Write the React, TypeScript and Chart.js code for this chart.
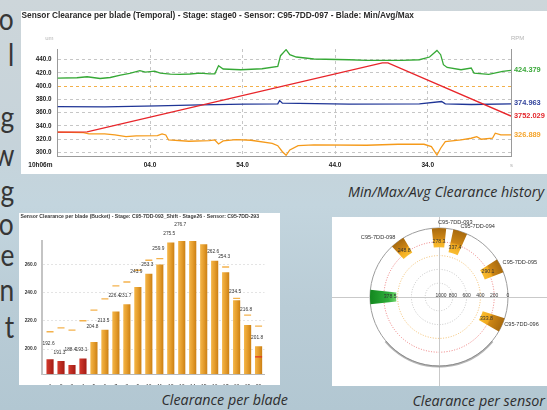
import React, { useEffect, useRef } from 'react';
import { Chart, registerables, PolarAreaController } from 'chart.js';

Chart.register(...registerables);

// ---------------- Slide text ----------------
const SLIDE_LETTERS = ['o', 'l', 'g', 'w', 'g', 'o', 'e', 'n', 't'];
const CAPTION_HISTORY = 'Min/Max/Avg Clearance history';
const CAPTION_BLADE = 'Clearance per blade';
const CAPTION_SENSOR = 'Clearance per sensor';

// ---------------- Temporal clearance (top chart) ----------------
const TOP_TITLE = 'Sensor Clearance per blade (Temporal) - Stage: stage0 - Sensor: C95-7DD-097 - Blade: Min/Avg/Max';
const TIME_TICKS = [0, 10, 20, 30, 40];
const TIME_TICK_LABELS = ['10h06m', '04.0', '54.0', '44.0', '34.0'];
const TIME_UNIT = 's';
const CLEARANCE_UNIT = 'um';
const RPM_UNIT = 'RPM';
const CLEARANCE_TICKS = [300, 320, 340, 360, 380, 400, 420, 440];
const CLEARANCE_LIMIT = 400;

const MAX_TIME = [0, 2.1, 3.2, 4.6, 5.7, 6.8, 7.8, 8.9, 9.5, 10.5, 11.1, 12.2, 13.2, 14.3, 15.4, 16.4, 17.0, 17.4, 17.9, 19.8, 22.1, 23.8, 24.1, 24.7, 25.1, 25.8, 27.7, 31.5, 33.4, 37.2, 39.1, 40.2, 41.0, 41.4, 41.7, 42.1, 43.6, 44.7, 45.0, 46.6, 48.1, 49.0];
const MAX_CLEARANCE = [412.3, 412.8, 414.3, 411.7, 413.2, 416.9, 419.3, 423.4, 421.4, 422.9, 419.9, 418.4, 417.8, 418.5, 419.9, 418.8, 418.8, 430.9, 426.0, 424.9, 426.4, 429.9, 446.1, 455.2, 447.6, 444.1, 441.1, 440.0, 439.0, 439.0, 440.0, 444.1, 454.1, 447.6, 432.5, 428.4, 424.9, 427.5, 419.9, 417.8, 422.3, 423.8];

const AVG_TIME = [0, 5.1, 10.8, 15.4, 20.2, 23.8, 24.0, 24.3, 31.5, 39.1, 41.5, 41.9, 44.7, 49.0];
const AVG_CLEARANCE = [369.3, 368.9, 370.4, 372.0, 373.0, 373.4, 378.4, 374.5, 373.0, 373.4, 376.9, 373.4, 372.4, 373.4];

const MIN_TIME = [0, 2.8, 3.4, 5.1, 6.2, 7.4, 8.5, 10.8, 11.3, 11.7, 12.0, 14.2, 16.4, 17.0, 17.4, 17.9, 19.3, 20.9, 23.2, 23.8, 24.3, 24.7, 25.1, 26.0, 27.7, 33.4, 36.8, 39.6, 40.4, 41.0, 41.4, 41.9, 43.6, 44.7, 45.3, 45.8, 47.0, 47.3, 47.9, 49.0];
const MIN_CLEARANCE = [330.6, 330.0, 328.0, 328.0, 326.5, 324.0, 325.0, 325.4, 328.0, 326.5, 318.9, 317.0, 317.9, 318.9, 312.9, 317.4, 319.4, 318.5, 313.9, 310.3, 301.2, 295.8, 303.8, 310.3, 311.4, 310.9, 312.4, 312.4, 308.8, 296.2, 306.4, 316.4, 318.9, 321.5, 323.9, 320.0, 321.5, 329.1, 326.5, 326.5];

const RPM_TIME = [0, 3.2, 35.1, 35.7, 49.0];
const RPM_VALUES = [3650, 3652, 4088, 4088, 3752];

const LAST_MAX = 424.379;
const LAST_AVG = 374.963;
const LAST_RPM = 3752.029;
const LAST_MIN = 326.889;

// ---------------- Clearance per blade (bottom-left) ----------------
const BLADE_TITLE = 'Sensor Clearance per blade (Bucket) - Stage: C95-7DD-093_Shift - Stage26 - Sensor: C95-7DD-293';
const BLADES = [1, 2, 3, 4, 5, 6, 7, 8, 9, 10, 11, 12, 13, 14, 15, 16, 17, 18, 19, 20];
const BLADE_CLEARANCE = [192.6, 191.3, 188.4, 193.1, 204.8, 213.5, 226.4, 231.7, 243.9, 253.3, 259.9, 275.5, 276.7, 276.6, 274.2, 262.6, 254.3, 234.5, 216.8, 201.8];
const BLADE_MAX = [212.3, 215.1, 213.5, 220.1, 227.7, 235.7, 244.9, 247.7, 256.0, 263.1, 264.3, null, null, null, null, null, 258.3, 236.0, 224.1, 216.3];
const BLADE_MIN_ALARM = [null, null, null, null, null, null, null, null, null, null, null, null, null, null, null, null, null, null, null, 194.5];
const BLADE_TICKS = [200, 220, 240, 260];
const BLADE_LOW_LIMIT = 195;
const BLADES_WITHOUT_LABEL = [14, 15];

// ---------------- Clearance per sensor (bottom-right) ----------------
const SENSOR_NAMES = ['C95-7DD-093', 'C95-7DD-094', 'C95-7DD-095', 'C95-7DD-096', 'C95-7DD-097', 'C95-7DD-098'];
const SENSOR_ANGLES = [0, 18, 63, 114, 270, 323];
const SENSOR_CLEARANCE = [278.3, 337.4, 290.1, 333.8, 378.5, 248.8];
const SELECTED_SENSOR = 'C95-7DD-097';
const RADIAL_TICKS = [0, 200, 400, 600, 800, 1000];
const RADIAL_ALARM = 200;
const RADIAL_WARNING = 400;

const FONT = '"Liberation Sans", Arial, sans-serif';
const ok = (...v: number[]) => v.every((n) => Number.isFinite(n));

// Polar controller whose slices are bands from the value out to the rim, at given angles
class SensorBandController extends (PolarAreaController as any) {
  static id = 'sensorBand';
  updateElements(arcs: any[], start: number, count: number, mode: any) {
    const self: any = this;
    const scale = self._cachedMeta.rScale;
    const ds = self.getDataset();
    const outer = scale.getDistanceFromCenterForValue(scale.min);
    const half = ((ds.bandWidth || 12) / 2) * Math.PI / 180;
    for (let i = start; i < start + count; i++) {
      const mid = (ds.angles[i] - 90) * Math.PI / 180;
      const inner = scale.getDistanceFromCenterForValue(self.getParsed(i).r);
      self.updateElement(arcs[i], i, {
        x: scale.xCenter,
        y: scale.yCenter,
        innerRadius: inner,
        outerRadius: outer,
        startAngle: mid - half,
        endAngle: mid + half,
        options: self.resolveDataElementOptions(i, mode),
      }, mode);
    }
  }
}
Chart.register(SensorBandController as any);

const zip = (xs: number[], ys: (number | null)[]) => xs.map((x, i) => ({ x, y: ys[i] }));

function makeTop(canvas: HTMLCanvasElement) {
  const labelsPlugin = {
    id: 'topLabels',
    afterDraw(chart: any) {
      const { ctx, chartArea: a, scales } = chart;
      ctx.save();
      ctx.textBaseline = 'middle';
      ctx.font = `bold 8.3px ${FONT}`;
      ctx.fillStyle = '#2a2a2a';
      ctx.textAlign = 'left';
      ctx.fillText(TOP_TITLE, 0.5, 4.8);
      ctx.font = `6px ${FONT}`;
      ctx.fillStyle = '#b4b4b4';
      ctx.textAlign = 'right';
      ctx.fillText(CLEARANCE_UNIT, a.left - 4, 27);
      ctx.textAlign = 'left';
      ctx.fillText(RPM_UNIT, a.right, 27);
      ctx.fillText(TIME_UNIT, a.right - 1, a.bottom + 9);
      ctx.font = `bold 6.5px ${FONT}`;
      ctx.fillStyle = '#222';
      ctx.textAlign = 'right';
      ctx.fillText(TIME_TICK_LABELS[0], a.left - 5, a.bottom + 9);
      const ends = [
        { v: LAST_MAX, axis: 'y', color: '#3aa83a' },
        { v: LAST_AVG, axis: 'y', color: '#33449c' },
        { v: LAST_RPM, axis: 'rpm', color: '#e3262b' },
        { v: LAST_MIN, axis: 'y', color: '#f5a42a' },
      ];
      ctx.font = `bold 7.4px ${FONT}`;
      ctx.textAlign = 'left';
      ends.forEach((e) => {
        ctx.fillStyle = e.color;
        ctx.fillText(e.v.toFixed(3), a.right + 3, scales[e.axis].getPixelForValue(e.v));
      });
      ctx.restore();
    },
  };
  return new Chart(canvas, {
    type: 'line',
    data: {
      datasets: [
        { label: 'RPM', data: zip(RPM_TIME, RPM_VALUES), yAxisID: 'rpm', borderColor: '#e8262b' },
        { label: 'Max', data: zip(MAX_TIME, MAX_CLEARANCE), yAxisID: 'y', borderColor: '#36a936' },
        { label: 'Avg', data: zip(AVG_TIME, AVG_CLEARANCE), yAxisID: 'y', borderColor: '#1f3596' },
        { label: 'Min', data: zip(MIN_TIME, MIN_CLEARANCE), yAxisID: 'y', borderColor: '#f59a1a' },
      ],
    },
    options: {
      responsive: false,
      animation: false,
      events: [],
      layout: { padding: { top: 38, right: 36, left: 0, bottom: 0 } },
      plugins: { legend: { display: false }, tooltip: { enabled: false } },
      elements: { point: { radius: 0 }, line: { borderWidth: 1.3, tension: 0 } },
      scales: {
        x: {
          type: 'linear', min: 0, max: 49,
          afterBuildTicks: (s: any) => { s.ticks = TIME_TICKS.map((v) => ({ value: v })); },
          afterFit: (s: any) => { s.height = 18; },
          grid: { color: '#c6c6c6', drawTicks: false },
          border: { display: true, color: '#9a9a9a', dash: [3, 3] },
          ticks: {
            padding: 5, color: '#222', maxRotation: 0, autoSkip: false,
            font: { family: FONT, size: 6.5, weight: 'bold' },
            callback: (_v: any, i: number) => (i === 0 ? '' : TIME_TICK_LABELS[i]),
          },
        },
        y: {
          min: 294.7, max: 456.2,
          afterBuildTicks: (s: any) => { s.ticks = CLEARANCE_TICKS.map((v) => ({ value: v })); },
          afterFit: (s: any) => { s.width = 36.5; },
          grid: { color: (c: any) => (c.tick && c.tick.value === CLEARANCE_LIMIT ? '#f3b04a' : '#c6c6c6'), drawTicks: false },
          border: { color: '#9a9a9a', dash: [3, 3] },
          ticks: {
            padding: 6, color: '#222',
            font: { family: FONT, size: 6.3, weight: 'bold' },
            callback: (v: any) => Number(v).toFixed(1),
          },
        },
        rpm: {
          position: 'right', min: 3500, max: 4175,
          ticks: { display: false },
          grid: { drawOnChartArea: false, drawTicks: false },
          border: { color: '#9a9a9a' },
          afterFit: (s: any) => { s.width = 0; },
        },
      },
    } as any,
    plugins: [labelsPlugin],
  });
}

function makeBlades(canvas: HTMLCanvasElement) {
  const labelPlugin = {
    id: 'bladeLabels',
    afterDatasetsDraw(chart: any) {
      const { ctx, scales } = chart;
      ctx.save();
      ctx.font = `4.8px ${FONT}`;
      ctx.fillStyle = '#333';
      ctx.textAlign = 'center';
      ctx.textBaseline = 'middle';
      BLADES.forEach((b, i) => {
        if (BLADES_WITHOUT_LABEL.includes(b)) return;
        const x = scales.x.getPixelForValue(b) - 1.5;
        const y = scales.y.getPixelForValue(BLADE_CLEARANCE[i]) - (b % 2 === 1 ? 16 : 9);
        ctx.fillText(BLADE_CLEARANCE[i].toFixed(1), x, y);
      });
      ctx.font = `bold 5.15px ${FONT}`;
      ctx.fillStyle = '#3a3a3a';
      ctx.textAlign = 'left';
      ctx.fillText(BLADE_TITLE, 1.5, 3.5);
      ctx.restore();
    },
  };
  return new Chart(canvas, {
    type: 'bar',
    data: {
      datasets: [
        {
          type: 'line', label: 'Max', data: zip(BLADES, BLADE_MAX), showLine: false,
          pointStyle: 'line', pointRadius: 3.5, borderColor: '#f4b24c', borderWidth: 1.4, order: 0,
        },
        {
          type: 'line', label: 'Min alarm', data: zip(BLADES, BLADE_MIN_ALARM), showLine: false,
          pointStyle: 'line', pointRadius: 3.5, borderColor: '#e2321e', borderWidth: 1.4, order: 0,
        },
        {
          type: 'bar', label: 'Clearance', data: zip(BLADES, BLADE_CLEARANCE), order: 1,
          barThickness: 6.5,
          backgroundColor: (c: any) => {
            const i = c.dataIndex;
            const sx = c.chart.scales.x;
            if (i == null || !sx) return '#e39b2e';
            const low = BLADE_CLEARANCE[i] < BLADE_LOW_LIMIT;
            const x = sx.getPixelForValue(BLADES[i]);
            if (!ok(x)) return low ? '#bb2a20' : '#e39b2e';
            const g = c.chart.ctx.createLinearGradient(x - 3.3, 0, x + 3.3, 0);
            if (low) {
              g.addColorStop(0, '#d2392c'); g.addColorStop(1, '#a51d16');
            } else {
              g.addColorStop(0, '#f3b446'); g.addColorStop(0.5, '#e59d2c'); g.addColorStop(1, '#cd8216');
            }
            return g;
          },
        },
      ],
    },
    options: {
      responsive: false,
      animation: false,
      events: [],
      layout: { padding: { top: 28, right: 15.5, left: 0, bottom: 0 } },
      plugins: { legend: { display: false }, tooltip: { enabled: false } },
      scales: {
        x: {
          type: 'linear', min: 0.24, max: 20.54, offset: false,
          afterBuildTicks: (s: any) => { s.ticks = BLADES.map((v) => ({ value: v })); },
          afterFit: (s: any) => { s.height = 11; },
          grid: { display: false, offset: false },
          border: { display: true, color: '#b8b8b8' },
          ticks: { padding: 2, color: '#333', maxRotation: 0, autoSkip: false, font: { family: FONT, size: 5 } },
        },
        y: {
          min: 182.3, max: 276.8,
          afterBuildTicks: (s: any) => { s.ticks = BLADE_TICKS.map((v) => ({ value: v })); },
          afterFit: (s: any) => { s.width = 22.7; },
          grid: { color: '#e4e4e4', drawTicks: false },
          border: { color: '#c4c4c4', width: 2, dash: [2, 2] },
          ticks: { padding: 5, color: '#333', font: { family: FONT, size: 4.8, weight: 'bold' }, callback: (v: any) => Number(v).toFixed(1) },
        },
      },
    } as any,
    plugins: [labelPlugin],
  });
}

function makeSensors(canvas: HTMLCanvasElement) {
  const decor = {
    id: 'polarDecor',
    beforeDatasetsDraw(chart: any) {
      const s = chart.scales.r;
      const ctx = chart.ctx;
      ctx.save();
      ctx.strokeStyle = '#c9c9c9';
      ctx.lineWidth = 1;
      ctx.beginPath();
      ctx.moveTo(0, s.yCenter + 0.5);
      ctx.lineTo(chart.width, s.yCenter + 0.5);
      ctx.moveTo(s.xCenter + 0.5, 0);
      ctx.lineTo(s.xCenter + 0.5, chart.height);
      ctx.stroke();
      ctx.strokeStyle = 'rgba(120,120,120,0.55)';
      ctx.lineWidth = 2;
      ctx.beginPath();
      ctx.arc(s.xCenter, s.yCenter, s.drawingArea + 0.5, Math.PI * 0.22, Math.PI * 0.78);
      ctx.stroke();
      ctx.restore();
    },
    afterDatasetsDraw(chart: any) {
      const s = chart.scales.r;
      const ctx = chart.ctx;
      ctx.save();
      ctx.textBaseline = 'middle';
      ctx.fillStyle = '#333';
      ctx.font = `5.2px ${FONT}`;
      ctx.textAlign = 'center';
      SENSOR_CLEARANCE.forEach((v, i) => {
        const a = (SENSOR_ANGLES[i] - 90) * Math.PI / 180;
        const r = s.getDistanceFromCenterForValue(v) + 6;
        ctx.fillText(v.toFixed(1), s.xCenter + r * Math.cos(a), s.yCenter + r * Math.sin(a));
      });
      ctx.font = `5.6px ${FONT}`;
      SENSOR_NAMES.forEach((n, i) => {
        if (n === SELECTED_SENSOR) return;
        const a = (SENSOR_ANGLES[i] - 90) * Math.PI / 180;
        const r = s.drawingArea + 3.5;
        const x = s.xCenter + r * Math.cos(a);
        const y = s.yCenter + r * Math.sin(a) - 2;
        const right = Math.cos(a) >= -0.01;
        ctx.textAlign = right ? 'left' : 'right';
        ctx.fillText(n, right ? x - 1 : x, y);
      });
      ctx.font = `5px ${FONT}`;
      ctx.textAlign = 'center';
      RADIAL_TICKS.forEach((t) => {
        ctx.fillText(String(t), s.xCenter + s.getDistanceFromCenterForValue(t) + (t === 1000 ? 2 : 0), s.yCenter - 1.5);
      });
      ctx.restore();
    },
  };
  return new Chart(canvas, {
    type: 'sensorBand' as any,
    data: {
      labels: SENSOR_NAMES,
      datasets: [{
        data: SENSOR_CLEARANCE,
        angles: SENSOR_ANGLES,
        bandWidth: 12,
        borderWidth: 0,
        backgroundColor: (c: any) => {
          const s = c.chart.scales.r;
          const i = c.dataIndex;
          const sel = i != null && SENSOR_NAMES[i] === SELECTED_SENSOR;
          const fallback = sel ? '#2aa236' : '#d08a18';
          if (!s || i == null) return fallback;
          const inner = s.getDistanceFromCenterForValue(SENSOR_CLEARANCE[i]);
          if (!ok(inner, s.xCenter, s.yCenter, s.drawingArea) || s.drawingArea <= inner) return fallback;
          const g = c.chart.ctx.createRadialGradient(s.xCenter, s.yCenter, inner, s.xCenter, s.yCenter, s.drawingArea);
          if (sel) {
            g.addColorStop(0, '#6fd46a'); g.addColorStop(0.3, '#2fae3a'); g.addColorStop(1, '#13871f');
          } else {
            g.addColorStop(0, '#f9bd30'); g.addColorStop(0.38, '#f0a81e'); g.addColorStop(0.46, '#cd8615'); g.addColorStop(1, '#a86a0e');
          }
          return g;
        },
      } as any],
    },
    options: {
      responsive: false,
      animation: false,
      events: [],
      layout: { padding: { left: 37, top: 11, right: 37.5, bottom: 18.5 } },
      plugins: { legend: { display: false }, tooltip: { enabled: false } },
      scales: {
        r: {
          type: 'radialLinear', min: 0, max: 1000, reverse: true,
          afterBuildTicks: (sc: any) => { sc.ticks = RADIAL_TICKS.slice().reverse().map((v) => ({ value: v })); },
          ticks: { display: false, stepSize: 200 },
          angleLines: { display: false },
          pointLabels: { display: false },
          grid: {
            circular: true, lineWidth: 1,
            color: (c: any) => {
              const v = c.tick ? c.tick.value : -1;
              if (v === 0) return '#9c9c9c';
              if (v === RADIAL_ALARM) return '#ec7a7a';
              if (v === RADIAL_WARNING) return '#f2bd6a';
              return '#c4c4c4';
            },
          },
          border: { dash: (c: any) => (c.tick && c.tick.value === 0 ? [] : [1, 1.6]) },
        },
      },
    } as any,
    plugins: [decor],
  });
}

function ChartCanvas({ width, height, make }: { width: number; height: number; make: (c: HTMLCanvasElement) => Chart }) {
  const ref = useRef<HTMLCanvasElement>(null);
  useEffect(() => {
    const chart = make(ref.current as HTMLCanvasElement);
    return () => chart.destroy();
  }, []);
  return <canvas ref={ref} width={width} height={height} style={{ display: 'block', width, height }} />;
}

const LETTER_BASELINES = [27, 63, 125, 163, 199, 232, 263, 298, 335];

export default function App() {
  const caption: React.CSSProperties = {
    position: 'absolute', fontFamily: '"Open Sans", sans-serif', fontStyle: 'italic',
    fontSize: 14.3, color: '#2e2e2e', whiteSpace: 'nowrap', lineHeight: '16px',
  };
  return (
    <div style={{
      position: 'fixed', left: 0, top: 0, width: 547, height: 410, overflow: 'hidden',
      background: 'linear-gradient(180deg, #cdd6da 0%, #c6d3da 35%, #c3d5de 50%, #b9ccd6 75%, #b2c7d2 100%)',
    }}>
      {SLIDE_LETTERS.map((ch, i) => (
        <div key={i} style={{
          position: 'absolute', right: 547 - 14, top: LETTER_BASELINES[i] - 25, height: 32,
          fontFamily: 'Lato, sans-serif', fontSize: 31, lineHeight: '32px', color: '#363636',
          transform: 'scaleX(0.85)', transformOrigin: 'right',
        }}>{ch}</div>
      ))}
      <div style={{ position: 'absolute', left: 21, top: 11, width: 526, height: 163, background: '#fff' }}>
        <ChartCanvas width={526} height={163} make={makeTop} />
      </div>
      <div style={{ ...caption, right: 3, top: 184 }}>{CAPTION_HISTORY}</div>
      <div style={{ position: 'absolute', left: 19, top: 213, width: 261, height: 172, background: '#fff' }}>
        <ChartCanvas width={261} height={172} make={makeBlades} />
      </div>
      <div style={{ ...caption, right: 547 - 288, top: 392 }}>{CAPTION_BLADE}</div>
      <div style={{ position: 'absolute', left: 332, top: 217, width: 215, height: 169, background: '#fff' }}>
        <ChartCanvas width={215} height={169} make={makeSensors} />
      </div>
      <div style={{ ...caption, right: 2, top: 393 }}>{CAPTION_SENSOR}</div>
    </div>
  );
}
